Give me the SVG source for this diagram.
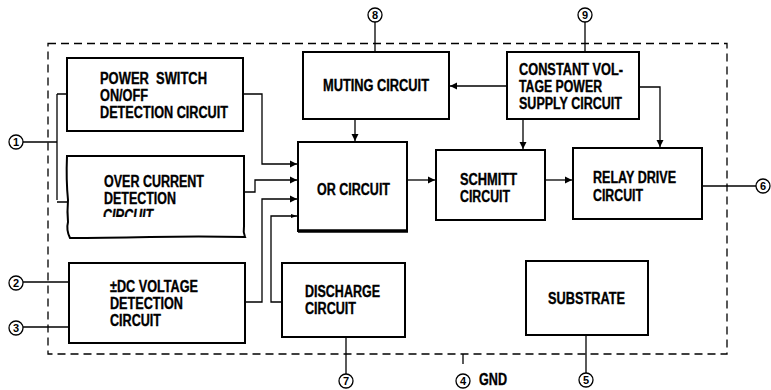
<svg xmlns="http://www.w3.org/2000/svg" width="771" height="390" viewBox="0 0 771 390">
<style>
.box{fill:#fff;stroke:#000;stroke-width:2}
.t{font-family:"Liberation Sans",Arial,sans-serif;font-weight:bold;font-size:16px;fill:#000;stroke:#000;stroke-width:0.35;white-space:pre}
.w{fill:none;stroke:#000;stroke-width:1.3}
.pin{fill:#fff;stroke:#000;stroke-width:1.3}
.pn{font-family:"Liberation Sans",Arial,sans-serif;font-weight:bold;font-size:11px;text-anchor:middle;fill:#000}
.dash{fill:none;stroke:#000;stroke-width:1.3;stroke-dasharray:8 5}
</style>
<defs>
<marker id="a" markerWidth="8" markerHeight="8" refX="7" refY="4" orient="auto" markerUnits="userSpaceOnUse">
<path d="M0,0.5 L7,4 L0,7.5 Z" fill="#000"/>
</marker>
<marker id="s" markerWidth="7" markerHeight="6" refX="6" refY="3" orient="auto" markerUnits="userSpaceOnUse">
<path d="M0,1 L6,3 L0,5 Z" fill="#000"/>
</marker>
<clipPath id="oc"><rect x="60" y="150" width="200" height="67"/></clipPath>
</defs>

<rect class="dash" x="48" y="43.5" width="679" height="310.5"/>

<g id="connectors">
<path class="w" d="M57,94 V200"/>
<path class="w" d="M57,94 H67 M57,202 H67"/>
<path class="w" d="M23,142 H57"/>
<path class="w" d="M243,94 H262 V164 H297" marker-end="url(#a)"/>
<path class="w" d="M245,192 H255 V180 H297" marker-end="url(#a)"/>
<path class="w" d="M245,302 H262 V199 H297" marker-end="url(#a)"/>
<path class="w" d="M282,302 H271 V216 H297" stroke-width="1" marker-end="url(#s)"/>
<path class="w" d="M355,119 V141" marker-end="url(#a)"/>
<path class="w" d="M375,22 V52"/>
<path class="w" d="M585,22 V52"/>
<path class="w" d="M507,86 H450" marker-end="url(#a)"/>
<path class="w" d="M523,119 V149" marker-end="url(#a)"/>
<path class="w" d="M639,87 H660 V147" marker-end="url(#a)"/>
<path class="w" d="M407,180 H435" marker-end="url(#a)"/>
<path class="w" d="M545,180 H572" marker-end="url(#a)"/>
<path class="w" d="M702,186 H756"/>
<path class="w" d="M23,282 H69"/>
<path class="w" d="M23,327 H69"/>
<path class="w" d="M346,337 V374"/>
<path class="w" d="M463,354 V364"/>
<path class="w" d="M586,335 V373"/>
</g>

<g id="pin1"><circle class="pin" cx="16" cy="142" r="7"/><text class="pn" x="16" y="146">1</text></g>
<g id="pin2"><circle class="pin" cx="16" cy="283" r="7"/><text class="pn" x="16" y="287">2</text></g>
<g id="pin3"><circle class="pin" cx="16" cy="328" r="7"/><text class="pn" x="16" y="332">3</text></g>
<g id="pin4"><circle class="pin" cx="463" cy="381" r="7"/><text class="pn" x="463" y="385">4</text><text class="t" x="479" y="385" textLength="28" lengthAdjust="spacingAndGlyphs">GND</text></g>
<g id="pin5"><circle class="pin" cx="586" cy="380" r="7"/><text class="pn" x="586" y="384">5</text></g>
<g id="pin6"><circle class="pin" cx="763" cy="186" r="7"/><text class="pn" x="763" y="190">6</text></g>
<g id="pin7"><circle class="pin" cx="346" cy="381" r="7"/><text class="pn" x="346" y="385">7</text></g>
<g id="pin8"><circle class="pin" cx="375" cy="15" r="7"/><text class="pn" x="375" y="19">8</text></g>
<g id="pin9"><circle class="pin" cx="585" cy="15" r="7"/><text class="pn" x="585" y="19">9</text></g>

<g id="power-switch">
<rect class="box" x="67" y="58" width="176" height="73"/>
<text class="t" x="100" y="84" textLength="107" lengthAdjust="spacingAndGlyphs">POWER  SWITCH</text>
<text class="t" x="100" y="101" textLength="48" lengthAdjust="spacingAndGlyphs">ON/OFF</text>
<text class="t" x="100" y="118" textLength="128" lengthAdjust="spacingAndGlyphs">DETECTION CIRCUIT</text>
</g>

<g id="over-current">
<path class="box" d="M67,156 H244 V226 Q243,232 245,237 Q200,236 150,237 Q100,238 70,238 Q66,230 68,222 Q67,212 68,200 Q66,180 67,156 Z"/>
<text class="t" x="104" y="187" textLength="100" lengthAdjust="spacingAndGlyphs">OVER CURRENT</text>
<text class="t" x="104" y="204" textLength="72" lengthAdjust="spacingAndGlyphs">DETECTION</text>
<text class="t" x="103" y="221" font-style="italic" textLength="50" lengthAdjust="spacingAndGlyphs" clip-path="url(#oc)">CIRCUIT</text>
</g>

<g id="dc-voltage">
<rect class="box" x="69" y="263" width="176" height="80"/>
<text class="t" x="110" y="292" textLength="88" lengthAdjust="spacingAndGlyphs">±DC VOLTAGE</text>
<text class="t" x="110" y="309" textLength="73" lengthAdjust="spacingAndGlyphs">DETECTION</text>
<text class="t" x="110" y="326" textLength="51" lengthAdjust="spacingAndGlyphs">CIRCUIT</text>
</g>

<g id="muting">
<rect class="box" x="303" y="52" width="146" height="67"/>
<text class="t" x="323" y="91" textLength="106" lengthAdjust="spacingAndGlyphs">MUTING CIRCUIT</text>
</g>

<g id="or-circuit">
<rect class="box" x="298" y="142" width="109" height="89"/>
<path d="M298,231 H408" stroke="#000" stroke-width="3.5"/>
<text class="t" x="317" y="195" textLength="73" lengthAdjust="spacingAndGlyphs">OR CIRCUIT</text>
</g>

<g id="constant-voltage">
<rect class="box" x="507" y="52" width="132" height="67"/>
<text class="t" x="519" y="75" textLength="104" lengthAdjust="spacingAndGlyphs">CONSTANT VOL-</text>
<text class="t" x="519" y="92" textLength="83" lengthAdjust="spacingAndGlyphs">TAGE POWER</text>
<text class="t" x="519" y="109" textLength="103" lengthAdjust="spacingAndGlyphs">SUPPLY CIRCUIT</text>
</g>

<g id="schmitt">
<rect class="box" x="436" y="150" width="109" height="70"/>
<text class="t" x="460" y="185" textLength="57" lengthAdjust="spacingAndGlyphs">SCHMITT</text>
<text class="t" x="460" y="202" textLength="50" lengthAdjust="spacingAndGlyphs">CIRCUIT</text>
</g>

<g id="relay-drive">
<rect class="box" x="573" y="148" width="129" height="71"/>
<text class="t" x="593" y="183" textLength="83" lengthAdjust="spacingAndGlyphs">RELAY DRIVE</text>
<text class="t" x="593" y="201" textLength="50" lengthAdjust="spacingAndGlyphs">CIRCUIT</text>
</g>

<g id="discharge">
<rect class="box" x="282" y="263" width="123" height="74"/>
<text class="t" x="305" y="297" textLength="75" lengthAdjust="spacingAndGlyphs">DISCHARGE</text>
<text class="t" x="305" y="314" textLength="51" lengthAdjust="spacingAndGlyphs">CIRCUIT</text>
</g>

<g id="substrate">
<rect class="box" x="526" y="261" width="122" height="74"/>
<text class="t" x="548" y="304" textLength="77" lengthAdjust="spacingAndGlyphs">SUBSTRATE</text>
</g>
</svg>
